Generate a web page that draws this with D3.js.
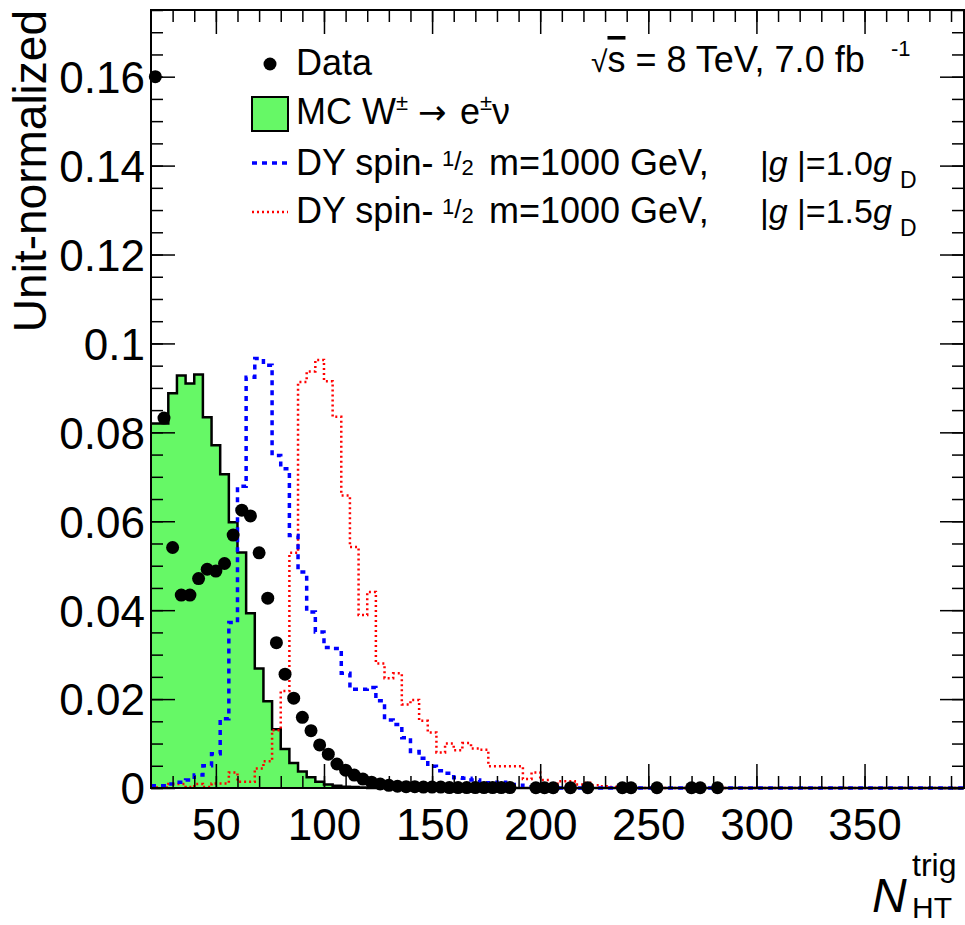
<!DOCTYPE html>
<html>
<head>
<meta charset="utf-8">
<script src="https://cdn.jsdelivr.net/npm/d3@7"></script>
<style>
  body { margin: 0; background: #fff; }
  svg text { font-family: "Liberation Sans", Arial, Helvetica, sans-serif; fill: #000; }
</style>
</head>
<body>
<div id="chart"></div>
<script>

// histogram binning (N_HT^trig), 4 units per bin starting at 20
var binStart = 20;
var binWidth = 4;
var nBins = 94;

// MC W -> e nu (unit normalized)
var mcVals = [0.082, 0.082, 0.0888, 0.0928, 0.091, 0.093, 0.0834, 0.0771, 0.0706, 0.0598,
    0.053, 0.0393, 0.0269, 0.0195, 0.0132, 0.0088, 0.0056, 0.0037, 0.0024, 0.0014,
    0.0008, 0.0005, 0.0003, 0.0002, 0.0001];

// DY spin-1/2, m=1000 GeV, |g|=1.0 gD
var dy10Vals = [0.0005, 0.0005, 0.0009, 0.0013, 0.0018, 0.0029, 0.005, 0.0077, 0.0156, 0.0372,
    0.0679, 0.0924, 0.0966, 0.0951, 0.0748, 0.0718, 0.0568, 0.0486, 0.0396, 0.0351,
    0.0316, 0.0314, 0.0258, 0.0222, 0.0222, 0.0226, 0.0196, 0.0153, 0.0143, 0.0113,
    0.0082, 0.0067, 0.0049, 0.0039, 0.0033, 0.0023, 0.0022, 0.0018, 0.0012, 0.001,
    0.0013, 0.0008, 0.0006, 0.0003, 0.0002, 0.0001, 0.0001];

// DY spin-1/2, m=1000 GeV, |g|=1.5 gD
var dy15Vals = [0.0001, 0.0001, 0.0009, 0.0009, 0.0002, 0.0009, 0.0002, 0.001, 0.001, 0.0035,
    0.0014, 0.0014, 0.0044, 0.006, 0.013, 0.0218, 0.0529, 0.0913, 0.0937, 0.0963,
    0.0915, 0.0835, 0.0658, 0.0542, 0.0389, 0.0441, 0.028, 0.0247, 0.0258, 0.0188,
    0.0198, 0.0151, 0.0125, 0.008, 0.01, 0.0085, 0.0101, 0.0089, 0.0086, 0.0049,
    0.0049, 0.0049, 0.0049, 0.002, 0.0035, 0.0018, 0.0008, 0.0015, 0.0015, 0.0008,
    0.0012, 0.0006, 0.0004, 0.0002, 0.0002, 0.0001];

// data, null = empty bin (no marker)
var dataVals = [0.16, 0.0832, 0.0541, 0.0434, 0.0434, 0.0471, 0.0492, 0.0488, 0.0505, 0.0569,
    0.0625, 0.0612, 0.0529, 0.0427, 0.0327, 0.0256, 0.0202, 0.0159, 0.0129, 0.0097,
    0.0076, 0.0054, 0.004, 0.0029, 0.002, 0.0013, 0.0009, 0.0006, 0.0004, 0.0003,
    0.0003, 0.0002, 0.0002, 0.0002, 0.0001, 0.0001, 0.0001, 0.0001, 0.0001, 0.0001,
    0.0001, 0.0001, null, null, 0.00005, 0.00005, 0.00005, null, 0.00005, null,
    0.00005, null, null, null, 0.00005, 0.00005, null, null, 0.00005, null,
    null, null, 0.00005, 0.00005, null, 0.00005];

// axis ticks
var xTicks = [50, 100, 150, 200, 250, 300, 350];
var xMinorTicks = d3.range(30, 400, 10);
var yTicks = [0, 0.02, 0.04, 0.06, 0.08, 0.1, 0.12, 0.14, 0.16];
var yTickLabels = ['0', '0.02', '0.04', '0.06', '0.08', '0.1', '0.12', '0.14', '0.16'];
var yMinorTicks = d3.range(0, 0.176, 0.005);

// svg container
var width = 965;
var height = 925;

// frame edges
var frame = {left: 151, right: 964, top: 10, bottom: 788};

var green = '#66f866';

var svg = d3.select('#chart').append('svg')
    .attr('width', width)
    .attr('height', height);

var xScale = d3.scaleLinear()
    .domain([binStart, binStart + nBins * binWidth])
    .range([frame.left, frame.right]);

var yScale = d3.scaleLinear()
    .domain([0, 0.175])
    .range([frame.bottom, frame.top]);

// turn a list of bin contents into step points over the full range
function steps(vals) {
    var pts = [];
    for (var i = 0; i < nBins; i++) {
        pts.push({x: binStart + i * binWidth, v: vals[i] || 0});
    }
    pts.push({x: binStart + nBins * binWidth, v: vals[nBins - 1] || 0});
    return pts;
}

var stepLine = d3.line()
    .x(d => xScale(d.x))
    .y(d => yScale(d.v))
    .curve(d3.curveStepAfter);

var stepArea = d3.area()
    .x(d => xScale(d.x))
    .y0(yScale(0))
    .y1(d => yScale(d.v))
    .curve(d3.curveStepAfter);

var plot = svg.append('g');

// MC filled histogram
plot.append('path')
    .attr('d', stepArea(steps(mcVals)))
    .attr('fill', green);

// axes (ticks inside the frame, ROOT style)
function styleAxis(g) {
    g.select('.domain').remove();
    g.selectAll('line').attr('stroke', '#000').attr('stroke-width', 1.5);
}

svg.append('g')
    .attr('transform', `translate(0, ${frame.bottom})`)
    .call(d3.axisBottom(xScale).tickValues(xMinorTicks).tickSize(-12).tickFormat(''))
    .call(styleAxis);
var xAxisG = svg.append('g')
    .attr('transform', `translate(0, ${frame.bottom})`)
    .call(d3.axisBottom(xScale).tickValues(xTicks).tickSize(-24).tickPadding(52).tickFormat(d3.format('d')))
    .call(styleAxis);
svg.append('g')
    .attr('transform', `translate(0, ${frame.top})`)
    .call(d3.axisTop(xScale).tickValues(xMinorTicks).tickSize(-12).tickFormat(''))
    .call(styleAxis);
svg.append('g')
    .attr('transform', `translate(0, ${frame.top})`)
    .call(d3.axisTop(xScale).tickValues(xTicks).tickSize(-24).tickFormat(''))
    .call(styleAxis);

svg.append('g')
    .attr('transform', `translate(${frame.left}, 0)`)
    .call(d3.axisLeft(yScale).tickValues(yMinorTicks).tickSize(-12).tickFormat(''))
    .call(styleAxis);
var yAxisG = svg.append('g')
    .attr('transform', `translate(${frame.left}, 0)`)
    .call(d3.axisLeft(yScale).tickValues(yTicks).tickSize(-24).tickPadding(6)
        .tickFormat((d, i) => yTickLabels[i]))
    .call(styleAxis);
svg.append('g')
    .attr('transform', `translate(${frame.right}, 0)`)
    .call(d3.axisRight(yScale).tickValues(yMinorTicks).tickSize(-12).tickFormat(''))
    .call(styleAxis);
svg.append('g')
    .attr('transform', `translate(${frame.right}, 0)`)
    .call(d3.axisRight(yScale).tickValues(yTicks).tickSize(-24).tickFormat(''))
    .call(styleAxis);

xAxisG.selectAll('text')
    .style('font-size', '44px')
    .attr('dy', 0);
yAxisG.selectAll('text')
    .style('font-size', '44px')
    .attr('dy', '0.36em');

// MC outline
plot.append('path')
    .attr('d', stepLine(steps(mcVals)))
    .attr('fill', 'none')
    .attr('stroke', '#000')
    .attr('stroke-width', 2.5);

// signal histograms
plot.append('path')
    .attr('d', stepLine(steps(dy15Vals)))
    .attr('fill', 'none')
    .attr('stroke', '#ff0000')
    .attr('stroke-width', 2.5)
    .attr('stroke-dasharray', '2,3');

plot.append('path')
    .attr('d', stepLine(steps(dy10Vals)))
    .attr('fill', 'none')
    .attr('stroke', '#0000ff')
    .attr('stroke-width', 3.5)
    .attr('stroke-dasharray', '5,5');

// data points
var dataPts = dataVals
    .map((v, i) => ({x: binStart + (i + 0.5) * binWidth, v: v}))
    .filter(d => d.v !== null);

plot.selectAll('circle.data')
    .data(dataPts)
    .enter()
    .append('circle')
    .attr('class', 'data')
    .attr('cx', d => xScale(d.x))
    .attr('cy', d => yScale(d.v))
    .attr('r', 6.5)
    .attr('fill', '#000');

// frame
svg.append('rect')
    .attr('x', frame.left)
    .attr('y', frame.top)
    .attr('width', frame.right - frame.left)
    .attr('height', frame.bottom - frame.top)
    .attr('fill', 'none')
    .attr('stroke', '#000')
    .attr('stroke-width', 2);

// y axis title
svg.append('text')
    .attr('transform', 'rotate(-90)')
    .attr('x', -frame.top)
    .attr('y', 46)
    .style('text-anchor', 'end')
    .style('font-size', '46px')
    .text('Unit-normalized');

// x axis title N_HT^trig
svg.append('text')
    .attr('x', 872).attr('y', 912)
    .style('font-size', '48px')
    .style('font-style', 'italic')
    .text('N');
svg.append('text')
    .attr('x', 912).attr('y', 918)
    .style('font-size', '30px')
    .text('HT');
svg.append('text')
    .attr('x', 912).attr('y', 876)
    .style('font-size', '32px')
    .text('trig');

// legend
var legend = svg.append('g');
var legFont = '36px';

legend.append('circle')
    .attr('cx', 270).attr('cy', 64).attr('r', 6.5).attr('fill', '#000');
legend.append('text')
    .attr('x', 296).attr('y', 75)
    .style('font-size', legFont)
    .text('Data');

legend.append('rect')
    .attr('x', 252).attr('y', 97).attr('width', 36).attr('height', 34)
    .attr('fill', green).attr('stroke', '#000').attr('stroke-width', 2);
var mcText = legend.append('text')
    .attr('x', 296).attr('y', 124)
    .style('font-size', legFont);
mcText.append('tspan').text('MC W');
mcText.append('tspan').attr('dy', -14).style('font-size', '22px').text('\u00b1');
mcText.append('tspan').attr('x', 418).attr('dy', 14)
    .style('font-family', '"DejaVu Sans", sans-serif').style('font-size', '34px').text('\u2192');
mcText.append('tspan').attr('x', 460).text('e');
mcText.append('tspan').attr('dy', -14).style('font-size', '22px').text('\u00b1');
mcText.append('tspan').attr('dy', 14).text('\u03bd');

function dyRow(yBase, coupling) {
    var t = legend.append('text')
        .attr('x', 296).attr('y', yBase)
        .style('font-size', legFont);
    t.append('tspan').text('DY spin-');
    t.append('tspan').attr('x', 442).attr('dy', -9).style('font-size', '22px').text('1');
    t.append('tspan').attr('dy', 4).style('font-size', '26px').text('/');
    t.append('tspan').attr('dy', 5).style('font-size', '22px').text('2');

    legend.append('text')
        .attr('x', 489).attr('y', yBase)
        .style('font-size', legFont)
        .text('m=1000 GeV,');

    var t3 = legend.append('text')
        .attr('x', 760).attr('y', yBase)
        .style('font-size', '34px');
    t3.append('tspan').text('|');
    t3.append('tspan').style('font-style', 'italic').text('g');
    t3.append('tspan').attr('x', 797).text('|=' + coupling);
    t3.append('tspan').style('font-style', 'italic').text('g');
    t3.append('tspan').attr('dx', 8).attr('dy', 13).style('font-size', '23px').text('D');
}

legend.append('line')
    .attr('x1', 252).attr('x2', 288).attr('y1', 163).attr('y2', 163)
    .attr('stroke', '#0000ff').attr('stroke-width', 3.5).attr('stroke-dasharray', '5,5');
dyRow(175, '1.0');

legend.append('line')
    .attr('x1', 252).attr('x2', 288).attr('y1', 212).attr('y2', 212)
    .attr('stroke', '#ff0000').attr('stroke-width', 2.5).attr('stroke-dasharray', '2,3');
dyRow(223, '1.5');

// energy and luminosity
var lumi = svg.append('text')
    .attr('x', 591).attr('y', 72)
    .style('font-size', '36px');
lumi.append('tspan').style('font-size', '30px').text('\u221a');
lumi.append('tspan').style('text-decoration', 'overline').text('s');
lumi.append('tspan').text(' = 8 TeV, 7.0 fb');
lumi.append('tspan').attr('x', 891).attr('dy', -16).style('font-size', '22px').text('-1');

</script>
</body>
</html>
